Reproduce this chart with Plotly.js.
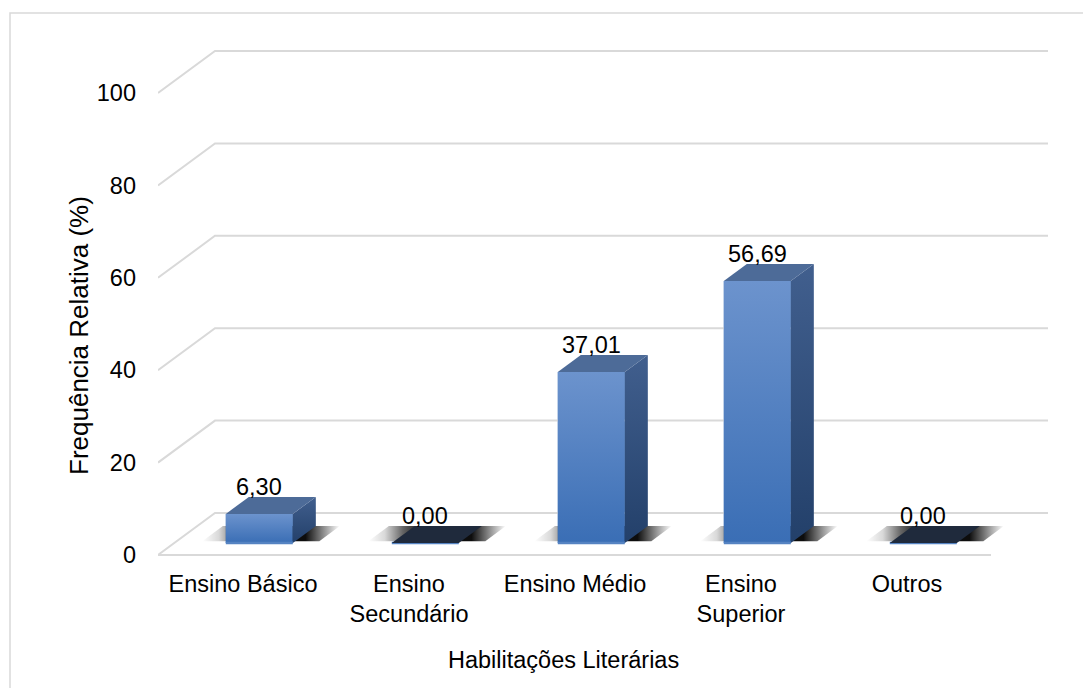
<!DOCTYPE html>
<html>
<head>
<meta charset="utf-8">
<script src="https://cdn.plot.ly/plotly-3.0.1.min.js"></script>
<style>html,body{margin:0;padding:0;background:#fff;}#chart{width:1083px;height:688px;}</style>
</head>
<body>
<div id="chart"></div>
<script>
// ---- data ----
const categories = ['Ensino Básico', 'Ensino Secundário', 'Ensino Médio', 'Ensino Superior', 'Outros'];
const tickLabels = ['Ensino Básico', 'Ensino<br>Secundário', 'Ensino Médio', 'Ensino<br>Superior', 'Outros'];
const values = [6.30, 0.00, 37.01, 56.69, 0.00];
const yTicks = [0, 20, 40, 60, 80, 100];
const xTitle = 'Habilitações Literárias';
const yTitle = 'Frequência Relativa (%)';

// ---- geometry (pixel layout of the pseudo-3D frame) ----
const W = 1083, H = 688;
const L = 158, R = 1063, T = 20, B = 565;       // plot area in px
const PX0 = 243, PXS = 166;                      // px of category 0 on front plane, px per category
const PY0 = 555, PYS = 4.62;                     // py of value 0 on front plane, px per unit
const DEPX = 57 / PXS, DEPY = 42 / PYS;          // full floor depth in data units
const BACK_RIGHT = (1048 - PX0) / PXS;
const XL = (L - PX0) / PXS;
const BW = 67 / PXS;                             // bar width
const D0 = 0.286, D1 = 0.69;                     // bar depth span
const S0 = 0.33, S1 = 0.69;                      // shadow depth span
const SHL = 26 / PXS, SHR = 24 / PXS;            // shadow overhang
const xRange = [XL, (R - PX0) / PXS];
const yRange = [(PY0 - B) / PYS, (PY0 - T) / PYS];

function P(x, v, d) { return [x + d * DEPX, v + d * DEPY]; }
function poly(pts) {
  const xs = [], ys = [];
  pts.forEach(p => { xs.push(p[0]); ys.push(p[1]); });
  xs.push(pts[0][0]); ys.push(pts[0][1]);
  return {x: xs, y: ys};
}
function fmt(v) { return v.toFixed(2).replace('.', ','); }
const paperX = px => (px - L) / (R - L);
const paperY = py => (B - py) / (B - T);

const traces = [];

// gridlines (back wall + left wall + floor front edge)
const gx = [], gy = [];
yTicks.forEach(v => {
  const a = P(XL, v, 0), b = P(XL, v, 1);
  gx.push(a[0], b[0], BACK_RIGHT, null);
  gy.push(a[1], b[1], b[1], null);
  if (v === 0) {
    gx.push(XL, BACK_RIGHT - DEPX, null);
    gy.push(0, 0, null);
  }
});
traces.push({type: 'scatter', mode: 'lines', x: gx, y: gy, line: {color: '#d9d9d9', width: 2},
  hoverinfo: 'skip', showlegend: false});

// bar trace (front faces)
traces.push({
  type: 'bar',
  x: values.map((v, i) => i + D0 * DEPX),
  y: values,
  base: values.map(() => D0 * DEPY),
  width: BW,
  marker: {color: '#5080c0', line: {width: 0}},
  text: values.map(fmt),
  textposition: 'none',
  hovertext: categories,
  showlegend: false
});

values.forEach((v, i) => {
  const xl = i - BW / 2, xr = i + BW / 2;
  // floor shadow
  const sh = poly([P(xl - SHL, 0, S0), P(xr + SHR, 0, S0), P(xr + SHR, 0, S1), P(xl - SHL, 0, S1)]);
  traces.push({type: 'scatter', mode: 'lines', x: sh.x, y: sh.y, fill: 'toself',
    fillcolor: 'rgba(0,0,0,0.6)',
    fillgradient: {type: 'horizontal', colorscale: [[0, 'rgba(0,0,0,0)'], [0.12, 'rgba(0,0,0,0.15)'], [0.25, 'rgba(0,0,0,0.6)'], [0.4, 'rgba(0,0,0,0.95)'], [0.75, 'rgba(0,0,0,0.95)'], [0.88, 'rgba(0,0,0,0.45)'], [1, 'rgba(0,0,0,0)']]},
    line: {width: 0}, hoverinfo: 'skip', showlegend: false});
  // front face shading
  const fr = poly([P(xl, 0, D0), P(xr, 0, D0), P(xr, v, D0), P(xl, v, D0)]);
  traces.push({type: 'scatter', mode: 'lines', x: fr.x, y: fr.y, fill: 'toself',
    fillcolor: '#5080c0',
    fillgradient: {type: 'vertical', colorscale: [[0, '#3a6eb5'], [1, '#6c93cd']]},
    line: {width: 0}, hoverinfo: 'skip', showlegend: false});
  // bottom edge strip
  const e0 = P(xl, 0, D0), e1 = P(xr, 0, D0);
  traces.push({type: 'scatter', mode: 'lines', x: [e0[0], e1[0]], y: [e0[1], e1[1]],
    line: {color: '#5583c2', width: 2.5}, hoverinfo: 'skip', showlegend: false});
  // side face
  const sd = poly([P(xr, 0, D0), P(xr, 0, D1), P(xr, v, D1), P(xr, v, D0)]);
  traces.push({type: 'scatter', mode: 'lines', x: sd.x, y: sd.y, fill: 'toself',
    fillcolor: '#324f7b',
    fillgradient: {type: 'vertical', colorscale: [[0, '#23406a'], [1, '#415f8e']]},
    line: {width: 0}, hoverinfo: 'skip', showlegend: false});
  // top face
  const tp = poly([P(xl, v, D0), P(xr, v, D0), P(xr, v, D1), P(xl, v, D1)]);
  traces.push({type: 'scatter', mode: 'lines', x: tp.x, y: tp.y, fill: 'toself',
    fillcolor: v > 0 ? '#4d6b98' : '#1f2a3c',
    line: {width: 0}, hoverinfo: 'skip', showlegend: false});
});

const FONT = '"Liberation Sans", Arial, sans-serif';
const annotations = values.map((v, i) => ({
  x: i + D0 * DEPX, y: v + D1 * DEPY, xref: 'x', yref: 'y',
  text: fmt(v), showarrow: false, xanchor: 'center', yanchor: 'bottom', yshift: -5,
  font: {family: FONT, size: 23.5, color: '#000'}
}));
annotations.push({xref: 'paper', yref: 'paper', x: paperX(563), y: paperY(660), text: xTitle,
  showarrow: false, xanchor: 'center', yanchor: 'middle', font: {family: FONT, size: 23.5, color: '#000'}});
annotations.push({xref: 'paper', yref: 'paper', x: paperX(79), y: paperY(336), text: yTitle,
  textangle: -90, showarrow: false, xanchor: 'center', yanchor: 'middle', font: {family: FONT, size: 26, color: '#000'}});

const layout = {
  width: W, height: H,
  margin: {l: L, r: W - R, t: T, b: H - B, pad: 0},
  paper_bgcolor: '#fff', plot_bgcolor: 'rgba(0,0,0,0)',
  showlegend: false,
  font: {family: FONT, size: 23.5, color: '#000'},
  xaxis: {type: 'linear', range: xRange, tickvals: categories.map((c, i) => i), ticktext: tickLabels,
    showgrid: false, zeroline: false, showline: false, ticks: '', ticklabelstandoff: 2,
    tickfont: {family: FONT, size: 23.5, color: '#000'}, fixedrange: true},
  yaxis: {range: yRange, tickvals: yTicks, ticktext: yTicks.map(String),
    showgrid: false, zeroline: false, showline: false, ticks: '', ticklabelstandoff: 21,
    tickfont: {family: FONT, size: 23.5, color: '#000'}, fixedrange: true},
  shapes: [{type: 'rect', xref: 'paper', yref: 'paper', x0: paperX(10), x1: paperX(1095),
    y0: paperY(700), y1: paperY(13), line: {color: '#d9d9d9', width: 1.5}, fillcolor: 'rgba(0,0,0,0)', layer: 'below'}],
  annotations: annotations
};

Plotly.newPlot('chart', traces, layout, {displayModeBar: false, staticPlot: true});
</script>
</body>
</html>
